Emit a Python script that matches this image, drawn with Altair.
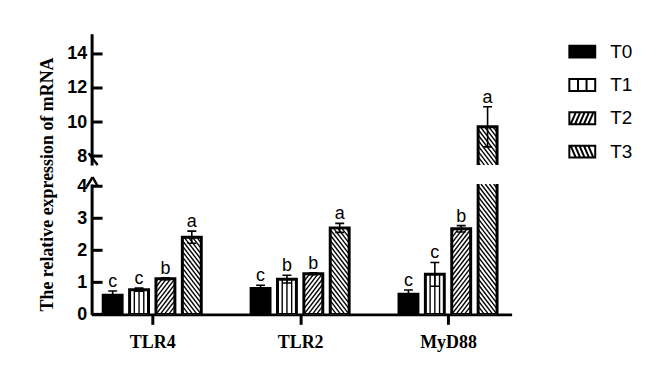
import json
import altair as alt
import pandas as pd

# ---------------- data ----------------
genes = ["TLR4", "TLR2", "MyD88"]
groups = ["T0", "T1", "T2", "T3"]
mean_TLR4 = [0.60, 0.77, 1.11, 2.41]
mean_TLR2 = [0.81, 1.10, 1.27, 2.70]
mean_MyD88 = [0.63, 1.25, 2.67, 9.72]
sd_TLR4 = [0.13, 0.05, 0.03, 0.19]
sd_TLR2 = [0.10, 0.12, 0.03, 0.14]
sd_MyD88 = [0.13, 0.37, 0.10, 1.18]
let_TLR4 = ["c", "c", "b", "a"]
let_TLR2 = ["c", "b", "b", "a"]
let_MyD88 = ["c", "c", "b", "a"]
low_ticks = [0, 1, 2, 3, 4]
up_ticks = [8, 10, 12, 14]
y_title = "The relative expression of mRNA"

means = [mean_TLR4, mean_TLR2, mean_MyD88]
sds = [sd_TLR4, sd_TLR2, sd_MyD88]
letters = [let_TLR4, let_TLR2, let_MyD88]

# ---------------- layout ----------------
W = 422
H_UP, H_LOW = 132, 131
X_DOM = [-0.41, 2.43]
UP_DOM = [7.47, 15.19]
LOW_DOM = [0.0, 4.07]
SX = W / (X_DOM[1] - X_DOM[0])
SY_UP = H_UP / (UP_DOM[1] - UP_DOM[0])
SY_LOW = H_LOW / (LOW_DOM[1] - LOW_DOM[0])
STEP_PX, BAR_PX, CAP_PX = 26.5, 19.0, 9.0
HATCH_SLOPE, HATCH_GAP = 1.3, 5.5

rows = []
for gi, g in enumerate(genes):
    for j, grp in enumerate(groups):
        m = means[gi][j]
        s = sds[gi][j]
        xc = gi + (j - 1.5) * STEP_PX / SX
        rows.append(dict(
            gene=g, group=grp, j=j, xc=xc,
            x0=xc - BAR_PX / 2 / SX, x1=xc + BAR_PX / 2 / SX,
            zero=0.0, mean=m, lo=m - s, hi=m + s,
            c0=xc - CAP_PX / 2 / SX, c1=xc + CAP_PX / 2 / SX,
            letter=letters[gi][j], fill="black" if j == 0 else "white",
        ))
bars = pd.DataFrame(rows)


def pattern_lines(dom, sy):
    out = []
    w = BAR_PX
    for r in rows:
        top = min(r["mean"], dom[1])
        if top <= dom[0]:
            continue
        h = (top - dom[0]) * sy
        segs = []
        if r["j"] == 1:
            for f in (0.25, 0.5, 0.75):
                segs.append((w * f, 0.0, w * f, h))
        elif r["j"] in (2, 3):
            k = HATCH_SLOPE
            c = -k * w + HATCH_GAP / 2
            while c < h:
                u0 = max(0.0, -c / k)
                u1 = min(w, (h - c) / k)
                if u1 - u0 > 0.2:
                    v0 = k * u0 + c
                    v1 = k * u1 + c
                    if r["j"] == 3:
                        u0, u1 = w - u0, w - u1
                    segs.append((u0, v0, u1, v1))
                c += HATCH_GAP
        for (u0, v0, u1, v1) in segs:
            out.append(dict(x=r["x0"] + u0 / SX, y=dom[0] + v0 / sy,
                            x2=r["x0"] + u1 / SX, y2=dom[0] + v1 / sy))
    return pd.DataFrame(out)


def fmt(v):
    return f"{v:.2f}"


RECT = "M-1,-0.46H1V0.46H-1Z"
xs_l = [-0.9, -0.56, -0.22, 0.12, 0.46]
paths = [
    RECT,
    RECT + " M-0.33,-0.46V0.46 M0.33,-0.46V0.46",
    RECT + "".join(f" M{fmt(x)},0.46L{fmt(x + 0.4)},-0.46" for x in xs_l),
    RECT + "".join(f" M{fmt(x)},-0.46L{fmt(x + 0.4)},0.46" for x in xs_l),
]
fills = ["black", "white", "white", "white"]

SANS = "Liberation Sans"
SERIF = "Liberation Serif"


def panel(dom, h, sy, ticks, lower):
    xs = alt.Scale(domain=X_DOM, nice=False, zero=False)
    ys = alt.Scale(domain=dom, nice=False, zero=False)
    ycommon = dict(values=ticks, ticks=False, tickSize=0, domainWidth=3, domainColor="black",
                   labelFont=SANS, labelFontWeight="bold", labelFontSize=18,
                   labelColor="black", labelPadding=5, labelFlush=False, grid=False)
    if lower:
        xaxis = alt.Axis(values=[0, 1, 2], labelExpr=json.dumps(genes) + "[datum.value]",
                         tickSize=10, tickWidth=3, tickColor="black",
                         domainWidth=3, domainColor="black",
                         labelFont=SERIF, labelFontWeight="bold", labelFontSize=18,
                         labelColor="black", labelPadding=9, grid=False, title=None)
        yaxis = alt.Axis(title=y_title, titleFont=SERIF, titleFontWeight="bold",
                         titleFontSize=18, titleColor="black", titleX=-44, titleY=0,
                         titleAlign="center", titleBaseline="middle", titleAngle=270,
                         **ycommon)
    else:
        xaxis = None
        yaxis = alt.Axis(title=None, **ycommon)

    def X(f):
        return alt.X(f, scale=xs, axis=xaxis)

    def Y(f):
        return alt.Y(f, scale=ys, axis=yaxis)

    base = alt.Chart(bars)
    fill_l = base.mark_rect(clip=True, strokeWidth=0).encode(
        x=X("x0:Q"), x2="x1:Q", y=Y("zero:Q"), y2="mean:Q",
        fill=alt.Fill("fill:N", scale=None),
    )
    pat = alt.Chart(pattern_lines(dom, sy)).mark_rule(clip=True, color="black", strokeWidth=1.4).encode(
        x=X("x:Q"), x2="x2:Q", y=Y("y:Q"), y2="y2:Q",
    )
    stroke_l = base.mark_rect(clip=True, fillOpacity=0, stroke="black", strokeWidth=3).encode(
        x=X("x0:Q"), x2="x1:Q", y=Y("zero:Q"), y2="mean:Q",
    )
    err = base.mark_rule(clip=True, color="black", strokeWidth=1.6).encode(
        x=X("xc:Q"), y=Y("lo:Q"), y2="hi:Q",
    )
    cap_lo = base.mark_rule(clip=True, color="black", strokeWidth=1.6).encode(
        x=X("c0:Q"), x2="c1:Q", y=Y("lo:Q"),
    )
    cap_hi = base.mark_rule(clip=True, color="black", strokeWidth=1.6).encode(
        x=X("c0:Q"), x2="c1:Q", y=Y("hi:Q"),
    )
    txt = base.mark_text(font=SANS, fontSize=18, color="black", dy=-4,
                         baseline="alphabetic", align="center").encode(
        x=X("xc:Q"), y=Y("hi:Q"), text="letter:N",
    ).transform_filter(f"datum.hi > {dom[0]} && datum.hi < {dom[1]}")
    tk = alt.Chart(pd.DataFrame({"v": ticks})).mark_rule(color="black", strokeWidth=3).encode(
        x=alt.value(0), x2=alt.value(11), y=Y("v:Q"),
    )
    one = pd.DataFrame({"a": [0]})
    layers = [fill_l, pat, stroke_l, err, cap_lo, cap_hi, txt, tk]
    if lower:
        layers.append(alt.Chart(one).mark_rule(color="black", strokeWidth=2.5).encode(
            x=alt.value(-5), x2=alt.value(1), y=alt.value(3), y2=alt.value(-7)))
        layers.append(alt.Chart(one).mark_rule(color="black", strokeWidth=2.5).encode(
            x=alt.value(1), x2=alt.value(6), y=alt.value(-7), y2=alt.value(2)))
    else:
        layers.append(alt.Chart(one).mark_rule(color="black", strokeWidth=2.5).encode(
            x=alt.value(-3), x2=alt.value(6), y=alt.value(h - 12), y2=alt.value(h)))
        leg = alt.Chart(pd.DataFrame({"group": groups})).mark_point(
            filled=True, opacity=1, strokeWidth=2).encode(
            shape=alt.Shape("group:N", scale=alt.Scale(domain=groups, range=paths),
                            legend=alt.Legend(title=None)),
            fill=alt.Fill("group:N", scale=alt.Scale(domain=groups, range=fills),
                          legend=alt.Legend(title=None)),
            stroke=alt.Stroke("group:N", scale=alt.Scale(domain=groups, range=["black"] * 4),
                              legend=alt.Legend(title=None)),
        ).transform_filter("false")
        layers.append(leg)
    return alt.layer(*layers).properties(width=W, height=h)


upper = panel(UP_DOM, H_UP, SY_UP, up_ticks, False)
lower = panel(LOW_DOM, H_LOW, SY_LOW, low_ticks, True)

chart = alt.vconcat(upper, lower, spacing=19, bounds="flush").properties(
    padding={"left": 30, "top": 25, "right": 5, "bottom": 5}
).configure_view(stroke=None).configure_legend(
    orient="right", offset=53, padding=4, rowPadding=9.5,
    labelFont=SANS, labelFontSize=19, labelColor="black", labelOffset=14,
    symbolSize=676, symbolStrokeWidth=2, symbolStrokeColor="black", symbolOpacity=1,
)

chart.save("out.html", embed_options={"renderer": "svg", "actions": False})
